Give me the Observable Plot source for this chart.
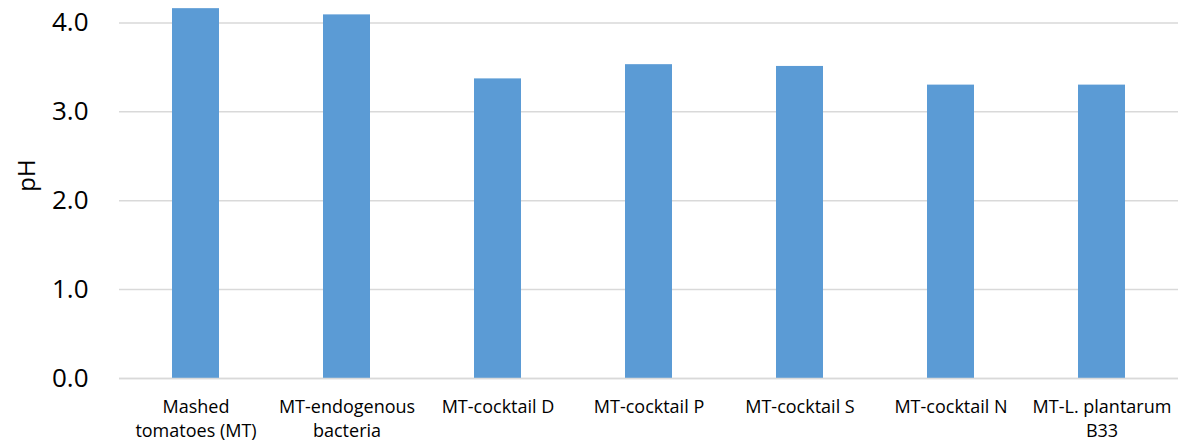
<!DOCTYPE html>
<html>
<head>
<meta charset="utf-8">
<script src="https://cdn.jsdelivr.net/npm/d3@7"></script>
<script src="https://cdn.jsdelivr.net/npm/@observablehq/plot@0.6"></script>
<style>
  html, body { margin: 0; padding: 0; background: #fff; }
  #chart svg { display: block; }
</style>
</head>
<body>
<div id="chart"></div>
<script>
const categories = [
  "Mashed\ntomatoes (MT)",
  "MT-endogenous\nbacteria",
  "MT-cocktail D",
  "MT-cocktail P",
  "MT-cocktail S",
  "MT-cocktail N",
  "MT-L. plantarum\nB33"
];
const phValues = [4.16, 4.09, 3.37, 3.53, 3.51, 3.30, 3.30];
const yTicks = [0, 1, 2, 3, 4];

const data = categories.map((c, i) => ({category: c, ph: phValues[i]}));

const chart = Plot.plot({
  width: 1179,
  height: 443,
  marginLeft: 119,
  marginRight: 1,
  marginTop: 4.6,
  marginBottom: 65,
  style: {fontFamily: "'Open Sans', sans-serif", color: "#000", background: "#fff"},
  x: {domain: categories, paddingInner: 0.69, paddingOuter: 0.345, label: null},
  y: {domain: [0, 4.2], label: null},
  marks: [
    Plot.gridY(yTicks, {stroke: "#d9d9d9", strokeOpacity: 1, strokeWidth: 1.5}),
    Plot.barY(data, {x: "category", y: "ph", fill: "#5b9bd5"}),
    Plot.ruleY([0], {stroke: "#d9d9d9", strokeWidth: 1.5}),
    Plot.axisY(yTicks, {tickSize: 0, tickPadding: 31, fontSize: 26, tickFormat: d3.format(".1f"), label: null, fill: "#000"}),
    Plot.axisX({tickSize: 0, tickPadding: 17, fontSize: 18, lineHeight: 1.35, label: null, fill: "#000"}),
    Plot.text(["pH"], {frameAnchor: "left", dx: -92, rotate: -90, fontSize: 24, fill: "#000"})
  ]
});
document.getElementById("chart").appendChild(chart);
</script>
</body>
</html>
